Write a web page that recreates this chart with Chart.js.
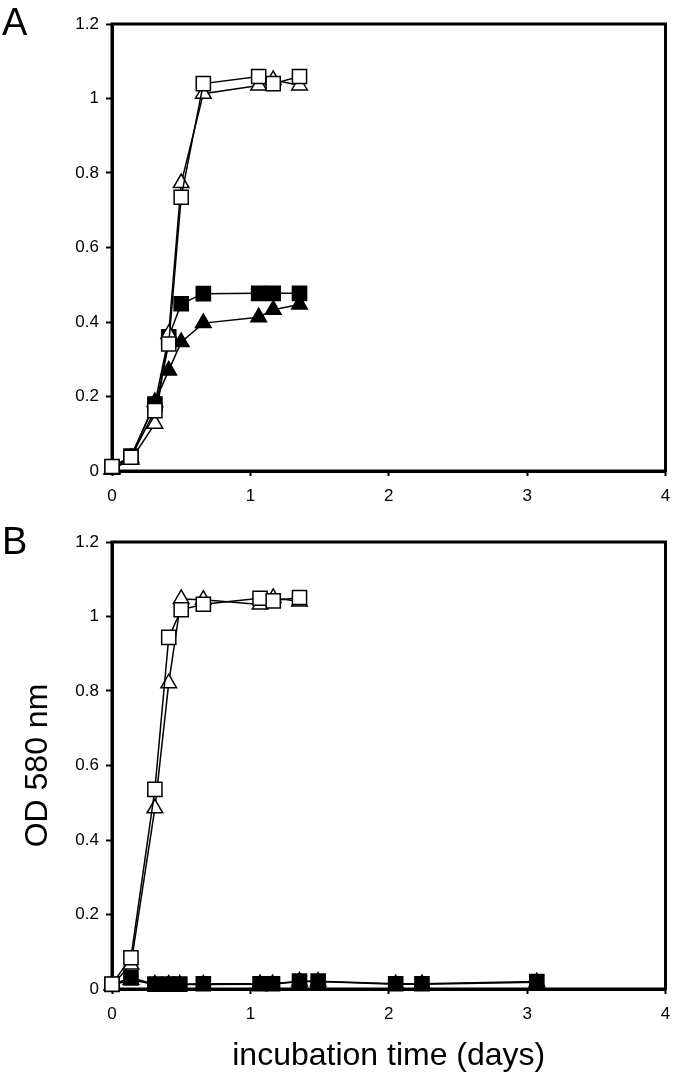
<!DOCTYPE html>
<html><head><meta charset="utf-8">
<script src="https://cdn.jsdelivr.net/npm/chart.js@4/dist/chart.umd.min.js"></script>
<style>
html,body{margin:0;padding:0;background:#fff;}
#wrap{position:relative;width:677px;height:1076px;overflow:hidden;font-family:"Liberation Sans",Arial,sans-serif;}
.panel{position:absolute;left:0;}
.letter{position:absolute;left:2px;font-size:38px;line-height:1;color:#000;font-family:"Liberation Sans",Arial,sans-serif;}
</style></head><body>
<div id="wrap">
<div class="panel" style="top:0;"><canvas id="cA" width="677" height="510"></canvas></div>
<div class="panel" style="top:510px;"><canvas id="cB" width="677" height="566"></canvas></div>
<div class="letter" style="top:3px;">A</div>
<div class="letter" style="top:522px;">B</div>
</div>
<script>
// ---- data ----
const xTickLabels = ["0", "1", "2", "3", "4"];
const yTickLabels = ["0", "0.2", "0.4", "0.6", "0.8", "1", "1.2"];

// Panel A
const timesA = [0, 0.137, 0.31, 0.41, 0.5, 0.66, 1.06, 1.165, 1.355];
const openSquaresA = [0.012, 0.037, 0.162, 0.341, 0.735, 1.04, 1.059, 1.04, 1.059];
const openTrianglesA = [0.005, 0.03, 0.127, 0.368, 0.773, 1.013, 1.035, 1.05, 1.035];
const filledSquaresA = [0.01, 0.04, 0.18, 0.36, 0.449, 0.476, 0.477, 0.477, 0.477];
const filledTrianglesA = [0.005, 0.035, 0.185, 0.27, 0.346, 0.397, 0.413, 0.433, 0.447];

// Panel B
const timesBOpen = [0, 0.137, 0.31, 0.41, 0.5, 0.66, 1.07, 1.165, 1.355];
const openSquaresB = [0.013, 0.084, 0.536, 0.944, 1.018, 1.033, 1.049, 1.042, 1.051];
const openTrianglesB = [0.01, 0.066, 0.485, 0.821, 1.047, 1.045, 1.032, 1.05, 1.04];
const timesBFilled = [0, 0.137, 0.31, 0.41, 0.49, 0.66, 1.07, 1.16, 1.355, 1.49, 2.05, 2.24, 3.07];
const filledSquaresB = [0.012, 0.03, 0.013, 0.013, 0.013, 0.014, 0.014, 0.014, 0.021, 0.021, 0.014, 0.014, 0.02];
const filledTrianglesB = [0.01, 0.025, 0.012, 0.012, 0.012, 0.012, 0.013, 0.013, 0.02, 0.02, 0.013, 0.013, 0.018];

// ---- helpers ----
const FONT = '"Liberation Sans", Arial, sans-serif';
function pts(xs, ys) { return xs.map((x, i) => ({ x: x, y: ys[i] })); }
function ds(xs, ys, style, filled) {
  return {
    data: pts(xs, ys),
    showLine: true,
    borderColor: '#000',
    borderWidth: 1.5,
    pointStyle: style,
    pointRadius: style === 'rect' ? 10 : 9,
    pointBorderWidth: 1.5,
    pointBorderColor: '#000',
    pointBackgroundColor: filled ? '#000' : '#fff',
    clip: false,
    tension: 0
  };
}
const framePlugin = {
  id: 'frame',
  beforeDatasetsDraw(chart) {
    const a = chart.chartArea, c = chart.ctx;
    c.save();
    c.strokeStyle = '#000';
    c.lineWidth = 3;
    c.strokeRect(a.left, a.top, a.right - a.left, a.bottom - a.top);
    c.restore();
  }
};
function makeChart(id, datasets, topPad, xAxisH, yTitle) {
  return new Chart(document.getElementById(id), {
    type: 'scatter',
    data: { datasets: datasets },
    options: {
      responsive: false,
      animation: false,
      devicePixelRatio: 1,
      layout: { padding: { left: 0, right: 6, top: topPad, bottom: 0 } },
      plugins: { legend: { display: false }, tooltip: { enabled: false } },
      scales: {
        x: {
          type: 'linear', min: 0, max: 4,
          afterFit(s) { s.height = xAxisH; s.paddingLeft = 0; s.paddingRight = 0; },
          afterBuildTicks(s) { s.ticks = xTickLabels.map(v => ({ value: Number(v) })); },
          ticks: { color: '#000', font: { family: FONT, size: 17 }, padding: 10,
                   callback: (v, i) => xTickLabels[i] },
          grid: { drawOnChartArea: false, drawTicks: true, tickLength: 5, tickWidth: 2, color: '#000' },
          border: { display: true, width: 3, color: '#000' },
          title: { display: !!yTitle, text: 'incubation time (days)', color: '#000',
                   font: { family: FONT, size: 32 }, padding: { top: 0, bottom: 1 } }
        },
        y: {
          type: 'linear', min: 0, max: 1.2,
          afterFit(s) { s.width = 112; },
          afterBuildTicks(s) { s.ticks = yTickLabels.map(v => ({ value: Number(v) })); },
          ticks: { color: '#000', font: { family: FONT, size: 17 }, padding: 7,
                   callback: (v, i) => yTickLabels[i] },
          grid: { drawOnChartArea: false, drawTicks: true, tickLength: 6, tickWidth: 2, color: '#000' },
          border: { display: true, width: 3, color: '#000' },
          title: { display: !!yTitle, text: yTitle || '', color: '#000',
                   font: { family: FONT, size: 32 }, padding: { top: 19, bottom: 0 } }
        }
      }
    },
    plugins: [framePlugin]
  });
}

makeChart('cA', [
  ds(timesA, openSquaresA, 'rect', false),
  ds(timesA, openTrianglesA, 'triangle', false),
  ds(timesA, filledSquaresA, 'rect', true),
  ds(timesA, filledTrianglesA, 'triangle', true)
], 24, 39, null);

makeChart('cB', [
  ds(timesBOpen, openSquaresB, 'rect', false),
  ds(timesBOpen, openTrianglesB, 'triangle', false),
  ds(timesBFilled, filledSquaresB, 'rect', true),
  ds(timesBFilled, filledTrianglesB, 'triangle', true)
], 32, 87, 'OD 580 nm');
</script>
</body></html>
